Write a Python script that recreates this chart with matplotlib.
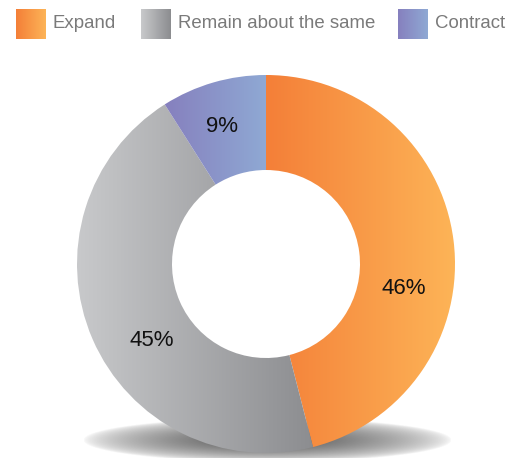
import numpy as np
import matplotlib
matplotlib.use("Agg")
import matplotlib.pyplot as plt
from matplotlib.colors import LinearSegmentedColormap

plt.rcParams['font.family'] = ['Liberation Sans', 'DejaVu Sans']

# data
categories = ["Expand", "Remain about the same", "Contract"]
values = [46, 45, 9]
labels = ["46%", "45%", "9%"]
# left -> right gradient colours for each slice
grad_colors = [("#F47F38", "#FDB457"),
               ("#C8C9CB", "#8C8D90"),
               ("#8680BE", "#8FA9D4")]

W, H = 531, 458
fig = plt.figure(figsize=(W / 100, H / 100), dpi=100)
ax = fig.add_axes([0, 0, 1, 1])
ax.set_xlim(0, W)
ax.set_ylim(0, H)
ax.set_aspect('equal')
ax.axis('off')

cx, cy = 266, H - 264
R = 189
ring = 95

# soft shadow under the donut
sx, sy = np.meshgrid(np.linspace(-1, 1, 400), np.linspace(-1, 1, 80))
d = np.sqrt(sx ** 2 + sy ** 2)
alpha = np.clip(1 - d, 0, 1) ** 0.6
shadow = np.zeros((80, 400, 4))
shadow[..., :3] = 0.25
shadow[..., 3] = alpha * 0.9
ax.imshow(shadow, extent=(83, 452, H - 462, H - 418), zorder=1,
          interpolation='bilinear', aspect='auto')

wedges, _ = ax.pie(values, center=(cx, cy), radius=R, startangle=90,
                   counterclock=False, wedgeprops=dict(width=ring, linewidth=0),
                   frame=True)
ax.set_xlim(0, W)
ax.set_ylim(0, H)
ax.axis('off')

grad = np.linspace(0, 1, 256).reshape(1, -1)
for w, (c0, c1) in zip(wedges, grad_colors):
    w.set_facecolor('none')
    w.set_zorder(2)
    cmap = LinearSegmentedColormap.from_list('g', [c0, c1])
    bb = w.get_path().get_extents(w.get_transform())
    inv = ax.transData.inverted()
    (x0, y0), (x1, y1) = inv.transform([[bb.x0, bb.y0], [bb.x1, bb.y1]])
    im = ax.imshow(grad, cmap=cmap, extent=(x0, x1, y0, y1), aspect='auto',
                   zorder=3, interpolation='bilinear')
    im.set_clip_path(w)

# percentage labels
label_pos = [(404, 288), (152, 341), (222, 127)]
for (lx, ly), t in zip(label_pos, labels):
    ax.text(lx, H - ly, t, fontsize=16, ha='center', va='center',
            color='#111111', zorder=5)

# legend
leg_x = [16, 141, 398]
for lx, name, (c0, c1) in zip(leg_x, categories, grad_colors):
    cmap = LinearSegmentedColormap.from_list('g', [c0, c1])
    ax.imshow(grad, cmap=cmap, extent=(lx, lx + 30, H - 39, H - 9),
              aspect='auto', zorder=5, interpolation='bilinear')
    ax.text(lx + 37, H - 24, name, fontsize=13.4, ha='left', va='center',
            color='#7a7a7a', zorder=5)

ax.set_xlim(0, W)
ax.set_ylim(0, H)
fig.savefig("out.png", dpi=100)
